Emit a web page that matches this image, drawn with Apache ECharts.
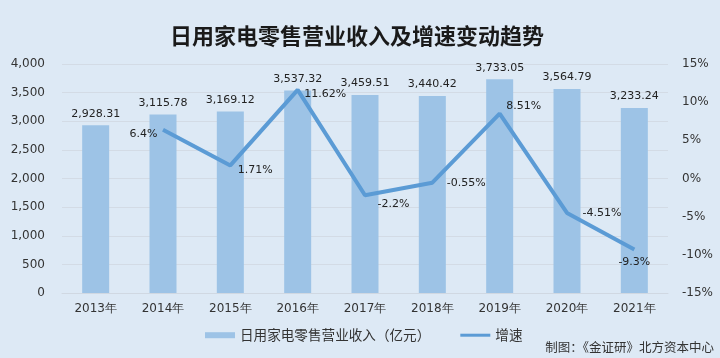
<!DOCTYPE html>
<html><head><meta charset="utf-8">
<script src="https://cdn.jsdelivr.net/npm/echarts@6/dist/echarts.min.js"></script>
<style>html,body{margin:0;padding:0;background:#dde9f5;}#c{width:720px;height:358px;}</style>
</head><body><div id="c"></div>
<script>
const years = ['2013年','2014年','2015年','2016年','2017年','2018年','2019年','2020年','2021年'];
const revenue = [2928.31, 3115.78, 3169.12, 3537.32, 3459.51, 3440.42, 3733.05, 3564.79, 3233.24];
const growth = [null, 6.4, 1.71, 11.62, -2.2, -0.55, 8.51, -4.51, -9.3];
const growthLabels = ['', '6.4%', '1.71%', '11.62%', '-2.2%', '-0.55%', '8.51%', '-4.51%', '-9.3%'];
const titleText = '日用家电零售营业收入及增速变动趋势';
const barName = '日用家电零售营业收入（亿元）';
const lineName = '增速';
const sourceText = '制图：《金证研》北方资本中心';

const labelPlace = [
  null,
  {position:'left', offset:[0,4]},
  {position:'right', offset:[2,5]},
  {position:'right', offset:[1,4]},
  {position:'right', offset:[7,9]},
  {position:'right', offset:[9,0]},
  {position:'right', offset:[1,-7]},
  {position:'right', offset:[10,0]},
  {position:'bottom', offset:[0,2]}
];

const chart = echarts.init(document.getElementById('c'), null, {renderer:'canvas'});
const num = v => v.toLocaleString('en-US', {minimumFractionDigits:2, maximumFractionDigits:2});
chart.setOption({
  backgroundColor: '#dde9f5',
  animation: false,
  title: {
    text: titleText, left: 165, top: 20,
    textStyle: {fontFamily:'Noto Sans CJK SC', fontSize: 22, fontWeight: 'bold', color: '#1a1a1a'}
  },
  graphic: [{
    type:'text', right: 6, top: 341,
    style: {text: sourceText, font: '12.5px "Noto Sans CJK SC"', fill:'#333'}
  }],
  legend: {
    bottom: 11, left: 200,
    itemGap: 30, itemWidth: 30, itemHeight: 6,
    textStyle: {fontFamily:'Noto Sans CJK SC', fontSize: 13.6, color:'#333'},
    data: [
      {name: barName, icon:'rect'},
      {name: lineName, icon:'path://M0,0 L30,0 L30,3 L0,3 Z', itemStyle:{color:'#5b9bd5', opacity:1}}
    ]
  },
  grid: {left: 62, right: 52, top: 64, bottom: 65},
  xAxis: {
    type: 'category', data: years,
    axisLine: {lineStyle:{color:'#d0d8e2'}}, axisTick:{show:false},
    axisLabel: {fontFamily:'DejaVu Sans', fontSize:12, color:'#333', margin:10}
  },
  yAxis: [{
    type:'value', min:0, max:4000, interval:500,
    axisLine:{show:false}, axisTick:{show:false},
    splitLine:{lineStyle:{color:'#d3dbe5', width:1}},
    axisLabel:{fontFamily:'DejaVu Sans', fontSize:12, color:'#333', margin:17,
      formatter: v => v.toLocaleString('en-US')}
  },{
    type:'value', min:-15, max:15, interval:5,
    axisLine:{show:false}, axisTick:{show:false}, splitLine:{show:false},
    axisLabel:{fontFamily:'DejaVu Sans', fontSize:12, color:'#333', margin:14,
      formatter: v => v + '%'}
  }],
  series: [{
    name: barName, type:'bar', data: revenue, barWidth: 27,
    itemStyle:{color:'#9dc3e6'},
    label:{show:true, position:'top', distance:6, fontFamily:'DejaVu Sans', fontSize:11, color:'#222',
      formatter: p => num(p.value)}
  },{
    name: lineName, type:'line', yAxisIndex:1,
    data: growth.map((v,i) => v === null ? null : {
      value: v,
      label: Object.assign({show:true, formatter: growthLabels[i]}, labelPlace[i])
    }),
    symbol:'circle', symbolSize:1, showSymbol:true,
    lineStyle:{color:'#5b9bd5', width:4}, itemStyle:{color:'rgba(91,155,213,0)'},
    label:{show:true, fontFamily:'DejaVu Sans', fontSize:11, color:'#222'}
  }]
});
</script></body></html>
